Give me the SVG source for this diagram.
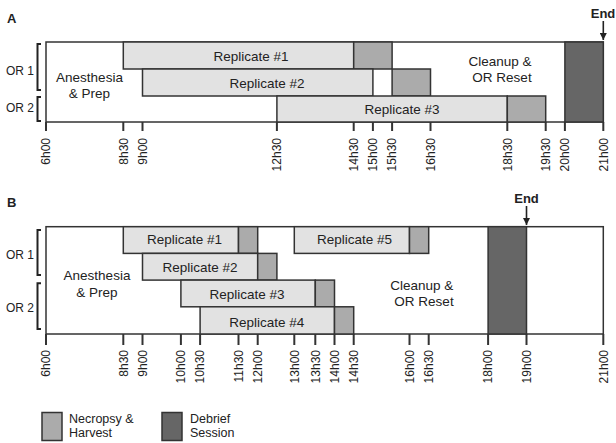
<svg xmlns="http://www.w3.org/2000/svg" width="616" height="443" viewBox="0 0 616 443">
<defs>
<style>
.frame{fill:#fff;stroke:#333;stroke-width:1.5}
.rep{fill:#e2e2e2;stroke:#333;stroke-width:1.5}
.nec{fill:#ababab;stroke:#333;stroke-width:1.5}
.deb{fill:#666;stroke:#333;stroke-width:1.5}
.tick{stroke:#333;stroke-width:2}
.br{fill:none;stroke:#222;stroke-width:2}
text{font-family:"Liberation Sans",Arial,sans-serif;fill:#222}
.lab{font-size:13.5px;text-anchor:middle}
.tl{font-size:12px;text-anchor:end}
.or{font-size:12px}
.hd{font-size:13px;font-weight:bold}
.leg{font-size:12.5px}
</style>
<marker id="ah" viewBox="0 0 8 8" refX="8" refY="4" markerWidth="7" markerHeight="7" markerUnits="userSpaceOnUse" orient="auto">
<path d="M0,0 L8,4 L0,8 z" fill="#222"/>
</marker>
</defs>

<!-- Panel A -->
<text class="hd" x="7" y="23">A</text>
<g id="A-frame"><rect class="frame" x="46" y="42" width="557.3" height="80"/></g>
<g id="A-or1"><path class="br" d="M41,44 H37.5 V90 H41"/><text class="or" x="6" y="75">OR 1</text></g>
<g id="A-or2"><path class="br" d="M41,97 H37.5 V121 H41"/><text class="or" x="6" y="112">OR 2</text></g>
<g id="A-prep"><text class="lab" x="89.5" y="82">Anesthesia</text><text class="lab" x="89.5" y="98">&amp; Prep</text></g>
<g id="A-rep1"><rect class="rep" x="123.3" y="42" width="230.4" height="27"/><text class="lab" x="251" y="61">Replicate #1</text></g>
<g id="A-nec1"><rect class="nec" x="353.7" y="42" width="38.4" height="27"/></g>
<g id="A-rep2"><rect class="rep" x="142.5" y="69" width="230.4" height="27"/><text class="lab" x="267" y="87.5">Replicate #2</text></g>
<g id="A-nec2"><rect class="nec" x="392.1" y="69" width="38.4" height="27"/></g>
<g id="A-rep3"><rect class="rep" x="276.9" y="96" width="230.4" height="26"/><text class="lab" x="402" y="113.5">Replicate #3</text></g>
<g id="A-nec3"><rect class="nec" x="507.3" y="96" width="38.4" height="26"/></g>
<g id="A-deb"><rect class="deb" x="564.9" y="42" width="38.4" height="80"/></g>
<g id="A-clean"><text class="lab" x="500" y="65.5">Cleanup &amp;</text><text class="lab" x="502" y="82">OR Reset</text></g>
<g id="A-end"><text class="hd" x="603" y="17.5" text-anchor="middle">End</text></g>

<g id="A-axis">
<line class="tick" x1="46" y1="122" x2="46" y2="131"/>
<line class="tick" x1="123.3" y1="122" x2="123.3" y2="131"/>
<line class="tick" x1="142.5" y1="122" x2="142.5" y2="131"/>
<line class="tick" x1="276.9" y1="122" x2="276.9" y2="131"/>
<line class="tick" x1="353.7" y1="122" x2="353.7" y2="131"/>
<line class="tick" x1="372.9" y1="122" x2="372.9" y2="131"/>
<line class="tick" x1="392.1" y1="122" x2="392.1" y2="131"/>
<line class="tick" x1="430.5" y1="122" x2="430.5" y2="131"/>
<line class="tick" x1="507.3" y1="122" x2="507.3" y2="131"/>
<line class="tick" x1="545.7" y1="122" x2="545.7" y2="131"/>
<line class="tick" x1="564.9" y1="122" x2="564.9" y2="131"/>
<line class="tick" x1="603.3" y1="122" x2="603.3" y2="131"/>
<text class="tl" transform="translate(50.3,138) rotate(-90)">6h00</text>
<text class="tl" transform="translate(127.6,138) rotate(-90)">8h30</text>
<text class="tl" transform="translate(146.8,138) rotate(-90)">9h00</text>
<text class="tl" transform="translate(281.2,138) rotate(-90)">12h30</text>
<text class="tl" transform="translate(358,138) rotate(-90)">14h30</text>
<text class="tl" transform="translate(377.2,138) rotate(-90)">15h00</text>
<text class="tl" transform="translate(396.4,138) rotate(-90)">15h30</text>
<text class="tl" transform="translate(434.8,138) rotate(-90)">16h30</text>
<text class="tl" transform="translate(511.6,138) rotate(-90)">18h30</text>
<text class="tl" transform="translate(550,138) rotate(-90)">19h30</text>
<text class="tl" transform="translate(569.2,138) rotate(-90)">20h00</text>
<text class="tl" transform="translate(607.6,138) rotate(-90)">21h00</text>
</g>

<!-- Panel B -->
<text class="hd" x="7" y="207">B</text>
<g id="B-frame"><rect class="frame" x="46" y="226.7" width="557.3" height="107.3"/></g>
<g id="B-or1"><path class="br" d="M41,230 H37.5 V275 H41"/><text class="or" x="6" y="258.5">OR 1</text></g>
<g id="B-or2"><path class="br" d="M41,283.3 H37.5 V329 H41"/><text class="or" x="6" y="312">OR 2</text></g>
<g id="B-prep"><text class="lab" x="97" y="280">Anesthesia</text><text class="lab" x="97" y="296.7">&amp; Prep</text></g>
<g id="B-rep1"><rect class="rep" x="123.3" y="226.7" width="115.2" height="26.7"/><text class="lab" x="184.5" y="244">Replicate #1</text></g>
<g id="B-nec1"><rect class="nec" x="238.5" y="226.7" width="19.2" height="26.7"/></g>
<g id="B-rep5"><rect class="rep" x="294.3" y="226.7" width="115.2" height="26.7"/><text class="lab" x="354.5" y="244">Replicate #5</text></g>
<g id="B-nec5"><rect class="nec" x="409.5" y="226.7" width="19.2" height="26.7"/></g>
<g id="B-rep2"><rect class="rep" x="142.5" y="253.4" width="115.2" height="26.7"/><text class="lab" x="200" y="272.3">Replicate #2</text></g>
<g id="B-nec2"><rect class="nec" x="257.7" y="253.4" width="19.2" height="26.7"/></g>
<g id="B-rep3"><rect class="rep" x="180.9" y="280.1" width="134.4" height="26.7"/><text class="lab" x="247" y="299.3">Replicate #3</text></g>
<g id="B-nec3"><rect class="nec" x="315.3" y="280.1" width="19.2" height="26.7"/></g>
<g id="B-rep4"><rect class="rep" x="200.1" y="306.8" width="134.4" height="27.2"/><text class="lab" x="266.7" y="326.7">Replicate #4</text></g>
<g id="B-nec4"><rect class="nec" x="334.5" y="306.8" width="19.2" height="27.2"/></g>
<g id="B-deb"><rect class="deb" x="488.1" y="226.7" width="38.4" height="107.3"/></g>
<g id="B-clean"><text class="lab" x="421.7" y="290">Cleanup &amp;</text><text class="lab" x="424" y="306">OR Reset</text></g>
<g id="B-end"><text class="hd" x="526.5" y="202.5" text-anchor="middle">End</text></g>

<g id="B-axis">
<line class="tick" x1="46" y1="334" x2="46" y2="345"/>
<line class="tick" x1="123.3" y1="334" x2="123.3" y2="345"/>
<line class="tick" x1="142.5" y1="334" x2="142.5" y2="345"/>
<line class="tick" x1="180.9" y1="334" x2="180.9" y2="345"/>
<line class="tick" x1="200.1" y1="334" x2="200.1" y2="345"/>
<line class="tick" x1="238.5" y1="334" x2="238.5" y2="345"/>
<line class="tick" x1="257.7" y1="334" x2="257.7" y2="345"/>
<line class="tick" x1="294.3" y1="334" x2="294.3" y2="345"/>
<line class="tick" x1="315.3" y1="334" x2="315.3" y2="345"/>
<line class="tick" x1="334.5" y1="334" x2="334.5" y2="345"/>
<line class="tick" x1="353.7" y1="334" x2="353.7" y2="345"/>
<line class="tick" x1="409.5" y1="334" x2="409.5" y2="345"/>
<line class="tick" x1="428.7" y1="334" x2="428.7" y2="345"/>
<line class="tick" x1="488.1" y1="334" x2="488.1" y2="345"/>
<line class="tick" x1="526.5" y1="334" x2="526.5" y2="345"/>
<line class="tick" x1="603.3" y1="334" x2="603.3" y2="345"/>
<text class="tl" transform="translate(50.3,350) rotate(-90)">6h00</text>
<text class="tl" transform="translate(127.6,350) rotate(-90)">8h30</text>
<text class="tl" transform="translate(146.8,350) rotate(-90)">9h00</text>
<text class="tl" transform="translate(185.2,350) rotate(-90)">10h00</text>
<text class="tl" transform="translate(204.4,350) rotate(-90)">10h30</text>
<text class="tl" transform="translate(242.8,350) rotate(-90)">11h30</text>
<text class="tl" transform="translate(262,350) rotate(-90)">12h00</text>
<text class="tl" transform="translate(298.6,350) rotate(-90)">13h00</text>
<text class="tl" transform="translate(319.6,350) rotate(-90)">13h30</text>
<text class="tl" transform="translate(338.8,350) rotate(-90)">14h00</text>
<text class="tl" transform="translate(358,350) rotate(-90)">14h30</text>
<text class="tl" transform="translate(413.8,350) rotate(-90)">16h00</text>
<text class="tl" transform="translate(433,350) rotate(-90)">16h30</text>
<text class="tl" transform="translate(492.4,350) rotate(-90)">18h00</text>
<text class="tl" transform="translate(530.8,350) rotate(-90)">19h00</text>
<text class="tl" transform="translate(607.6,350) rotate(-90)">21h00</text>
</g>

<g id="connectors">
<line x1="603.3" y1="21" x2="603.3" y2="40" stroke="#222" stroke-width="1.6" marker-end="url(#ah)"/>
<line x1="526.5" y1="206" x2="526.5" y2="225" stroke="#222" stroke-width="1.6" marker-end="url(#ah)"/>
</g>

<!-- Legend -->
<g id="legend-necropsy"><rect class="nec" x="42" y="412.5" width="20" height="28"/><text class="leg" x="69" y="422.7">Necropsy &amp;</text><text class="leg" x="69" y="437.3">Harvest</text></g>
<g id="legend-debrief"><rect class="deb" x="162" y="412.5" width="20" height="28"/><text class="leg" x="190" y="422.7">Debrief</text><text class="leg" x="190" y="437.3">Session</text></g>
</svg>
